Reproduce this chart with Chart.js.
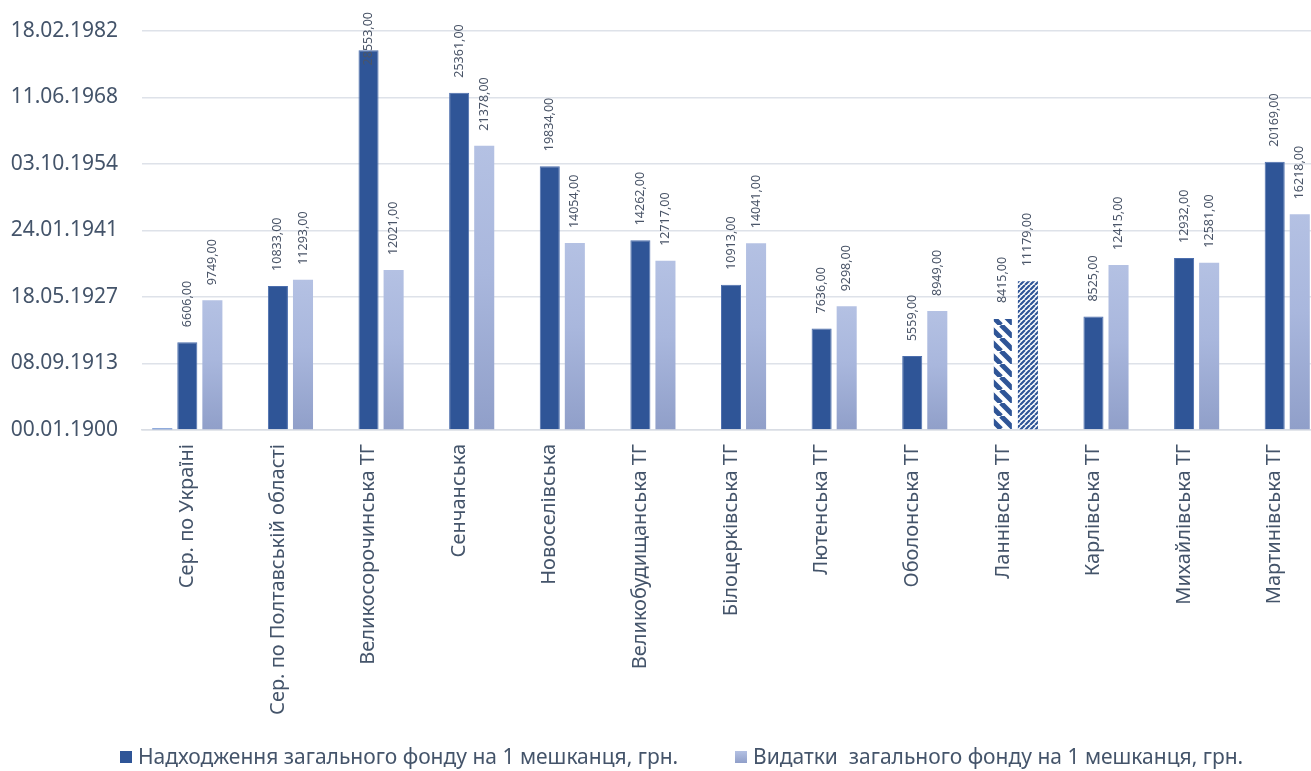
<!DOCTYPE html>
<html>
<head>
<meta charset="utf-8">
<script src="https://cdn.jsdelivr.net/npm/chart.js@4.4.1/dist/chart.umd.min.js"></script>
<style>
html,body{margin:0;padding:0;background:#fff;overflow:hidden}
#wrap{width:1311px;height:771px;overflow:hidden;position:relative}
#box{width:1320px;height:771px;position:absolute;left:0;top:0}
</style>
</head>
<body>
<div id="wrap"><div id="box"><canvas id="c"></canvas></div></div>
<script>
const categories = ['Сер. по Україні','Сер. по Полтавській області','Великосорочинська ТГ','Сенчанська','Новоселівська','Великобудищанська ТГ','Білоцерківська ТГ','Лютенська ТГ','Оболонська ТГ','Ланнівська ТГ','Карлівська ТГ','Михайлівська ТГ','Мартинівська ТГ'];
const revenue  = [6606,10833,28553,25361,19834,14262,10913,7636,5559,8415,8525,12932,20169];
const expenses = [9749,11293,12021,21378,14054,12717,14041,9298,8949,11179,12415,12581,16218];
const extraSeries = [120,null,null,null,null,null,null,null,null,null,null,null,null];
const yTickValues = [0,5000,10000,15000,20000,25000,30000];
const yTickLabels = ['00.01.1900','08.09.1913','18.05.1927','24.01.1941','03.10.1954','11.06.1968','18.02.1982'];
const seriesLabels = ['Надходження загального фонду на 1 мешканця, грн.','Видатки  загального фонду на 1 мешканця, грн.'];
const hatchedCategory = 'Ланнівська ТГ';

const DARK = '#2F5597';
const LIGHT_TOP = '#B4C1E3';
const LIGHT_BOTTOM = '#909FC9';
const TEXT = '#44546A';
const FONT = '"Noto Sans", "DejaVu Sans", sans-serif';
const hatchIdx = categories.indexOf(hatchedCategory);

function makePattern(size, width, dir) {
  const c = document.createElement('canvas');
  c.width = size; c.height = size;
  const g = c.getContext('2d');
  g.fillStyle = '#fff'; g.fillRect(0, 0, size, size);
  g.strokeStyle = DARK; g.lineWidth = width;
  g.beginPath();
  for (let k = -1; k <= 1; k++) {
    if (dir === '\\') { g.moveTo(k * size, 0); g.lineTo(k * size + size, size); }
    else { g.moveTo(k * size, size); g.lineTo(k * size + size, 0); }
  }
  g.stroke();
  return g.createPattern(c, 'repeat');
}
const patDark = makePattern(13, 5, '\\');
const patLight = makePattern(5, 2.2, '/');

function lightFill(ctx) {
  const chart = ctx.chart;
  if (ctx.dataIndex === hatchIdx) return patLight;
  if (!chart.chartArea || ctx.raw == null) return LIGHT_TOP;
  const ys = chart.scales.y;
  const top = ys.getPixelForValue(ctx.raw);
  const bottom = ys.getPixelForValue(0);
  const g = chart.ctx.createLinearGradient(0, top, 0, bottom);
  g.addColorStop(0, LIGHT_TOP);
  g.addColorStop(0.45, '#A9B7DD');
  g.addColorStop(1, LIGHT_BOTTOM);
  return g;
}

const valueLabels = {
  id: 'valueLabels',
  afterDatasetsDraw(chart, args, opts) {
    const ctx = chart.ctx;
    ctx.save();
    ctx.font = '12.5px ' + FONT;
    ctx.fillStyle = '#4A5568';
    ctx.textAlign = 'left';
    ctx.textBaseline = 'middle';
    [1, 2].forEach(di => {
      const meta = chart.getDatasetMeta(di);
      meta.data.forEach((bar, i) => {
        const v = chart.data.datasets[di].data[i];
        if (v == null) return;
        const txt = v.toFixed(2).replace('.', ',');
        const w = ctx.measureText(txt).width;
        const start = Math.max(bar.y - opts.gap, opts.minTop + w);
        ctx.save();
        ctx.translate(bar.x, start);
        ctx.rotate(-Math.PI / 2);
        ctx.fillText(txt, 0, 0);
        ctx.restore();
      });
    });
    ctx.restore();
  }
};

const bottomLegend = {
  id: 'bottomLegend',
  afterDraw(chart, args, opts) {
    const ctx = chart.ctx;
    ctx.save();
    ctx.font = opts.fontSize + 'px ' + FONT;
    ctx.textBaseline = 'middle';
    ctx.textAlign = 'left';
    opts.datasets.forEach((di, k) => {
      const ds = chart.data.datasets[di];
      const x = opts.starts[k], y = opts.y;
      const s = opts.box;
      if (di === 2) {
        const g = ctx.createLinearGradient(0, y - s / 2, 0, y + s / 2);
        g.addColorStop(0, LIGHT_TOP); g.addColorStop(1, LIGHT_BOTTOM);
        ctx.fillStyle = g;
      } else {
        ctx.fillStyle = DARK;
      }
      ctx.fillRect(x, y - s / 2, s, s);
      ctx.fillStyle = TEXT;
      ctx.fillText(ds.label, x + s + 6, y + 1);
    });
    ctx.restore();
  }
};

new Chart(document.getElementById('c'), {
  type: 'bar',
  data: {
    labels: categories,
    datasets: [
      { label: '', data: extraSeries, backgroundColor: '#4472C4', categoryPercentage: 0.83, barPercentage: 0.8 },
      { label: seriesLabels[0], data: revenue,
        backgroundColor: c => c.dataIndex === hatchIdx ? patDark : DARK,
        borderColor: c => c.dataIndex === hatchIdx ? 'rgba(0,0,0,0)' : '#4C6EAD',
        borderWidth: 1, categoryPercentage: 0.83, barPercentage: 0.8 },
      { label: seriesLabels[1], data: expenses, backgroundColor: lightFill,
        borderWidth: 0, categoryPercentage: 0.83, barPercentage: 0.8 }
    ]
  },
  options: {
    responsive: true,
    maintainAspectRatio: false,
    animation: false,
    layout: { padding: { top: 31, right: 0, bottom: 0, left: 0 } },
    plugins: {
      legend: { display: false },
      tooltip: { enabled: false },
      valueLabels: { gap: 15, minTop: 12 },
      bottomLegend: { datasets: [1, 2], starts: [120, 735], y: 757, box: 12, fontSize: 21 }
    },
    scales: {
      x: {
        grid: { display: false, drawTicks: false },
        border: { display: true, color: '#D9DDE4', width: 1.5 },
        ticks: { color: TEXT, font: { family: FONT, size: 20 }, minRotation: 90, maxRotation: 90, padding: 14, autoSkip: false },
        afterFit(s) { s.height = 341; }
      },
      y: {
        min: 0, max: 30000,
        afterBuildTicks(s) { s.ticks = yTickValues.map(v => ({ value: v })); },
        ticks: { color: TEXT, font: { family: FONT, size: 21 }, padding: 24,
          callback: v => yTickLabels[yTickValues.indexOf(v)] },
        grid: { color: '#DEE2E9', lineWidth: 1.5, drawTicks: false },
        border: { display: false },
        afterFit(s) { s.width = 142; s.paddingTop = 0; s.paddingBottom = 0; }
      }
    }
  },
  plugins: [valueLabels, bottomLegend]
});
</script>
</body>
</html>
